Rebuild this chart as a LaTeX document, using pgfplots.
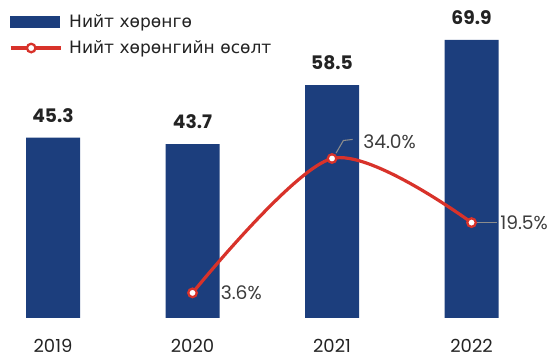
\documentclass[border=0pt]{standalone}
\usepackage{fontspec}
\setmainfont{Poppins}
\newfontfamily\cyr{DejaVu Sans}
\usepackage{pgfplots}
\pgfplotsset{compat=1.18}
\definecolor{navy}{RGB}{28,62,125}
\definecolor{redl}{RGB}{216,50,42}
\definecolor{txt}{RGB}{35,35,35}
\definecolor{lbl}{RGB}{60,60,60}
\definecolor{lead}{RGB}{140,140,140}
\begin{document}
\begin{tikzpicture}
\pgfplotsset{
  base/.style={width=414.75pt, height=268.5pt, scale only axis,
    xmin=-0.380, xmax=3.584, axis line style={draw=none},
    major tick length=0pt, ytick=\empty, clip=false,
    /pgf/number format/assume math mode=true},
}
\begin{axis}[base, name=ax, ymin=-10.05, ymax=79.9,
  xtick={0,1,2,3}, xticklabels={2019,2020,2021,2022},
  xticklabel style={anchor=center, yshift=9.4pt, font=\fontsize{13.5}{16}\selectfont, text=txt},
  ybar, bar width=40.5pt, bar shift=0pt,
  nodes near coords={\pgfmathprintnumber[fixed,fixed zerofill,precision=1]{\pgfplotspointmeta}},
  nodes near coords style={anchor=south, inner sep=0pt, yshift=11.25pt,
    font=\bfseries\fontsize{14}{16}\selectfont, text=txt}]
\addplot[fill=navy, draw=none] coordinates {(0,45.3) (1,43.7) (2,58.5) (3,69.9)};
\end{axis}
\begin{axis}[base, ymin=-11.13, ymax=69.86, xtick=\empty,
  legend style={at={(rel axis cs:0,1)}, anchor=north west, xshift=3.5pt, yshift=-6.5pt,
    draw=none, fill=none, font=\cyr\fontsize{12.8}{14}\selectfont,
    text=txt, row sep=4.5pt, cells={anchor=west}},
  legend cell align=left]
\addlegendimage{legend image code/.code={\fill[navy] (0pt,-4.1pt) rectangle (36.75pt,4.1pt); \path[draw=none,fill=none] (0pt,0pt) -- (42pt,0pt);}}
\addlegendentry{Нийт хөрөнгө}
\addplot[redl, line width=2.4pt, smooth, mark=*, mark size=3.2pt,
  mark options={fill=white, draw=redl, line width=1.7pt},
  legend image code/.code={\draw[redl, line width=2.4pt] (0pt,0pt) -- (37.5pt,0pt);
    \draw[redl, fill=white, line width=1.7pt] (15.5pt,0pt) circle (3.2pt); \path[draw=none,fill=none] (0pt,0pt) -- (42pt,0pt);}]
  coordinates {(1,3.6) (2,34.0) (3,19.5)};
\addlegendentry{Нийт хөрөнгийн өсөлт}
\draw[lead, line width=0.8pt] ([shift={(3pt,4pt)}]axis cs:2,34.0) -- ([shift={(8.5pt,13.5pt)}]axis cs:2,34.0) -- ([shift={(15.5pt,14.3pt)}]axis cs:2,34.0);
\draw[lead, line width=0.8pt] ([shift={(4pt,0pt)}]axis cs:3,19.5) -- ([shift={(19pt,0pt)}]axis cs:3,19.5);
\node[anchor=west, inner sep=0pt, font=\fontsize{14}{16}\selectfont, text=lbl] at ([xshift=21pt]axis cs:1,3.6) {3.6\%};
\node[anchor=west, inner sep=0pt, font=\fontsize{14}{16}\selectfont, text=lbl] at ([shift={(23.25pt,12.75pt)}]axis cs:2,34.0) {34.0\%};
\node[anchor=west, inner sep=0pt, font=\fontsize{14}{16}\selectfont, text=lbl] at ([xshift=21.4pt]axis cs:3,19.5) {19.5\%};
\end{axis}
\pgfresetboundingbox
\path[use as bounding box] (ax.south west) rectangle (ax.north east);
\end{tikzpicture}
\end{document}
